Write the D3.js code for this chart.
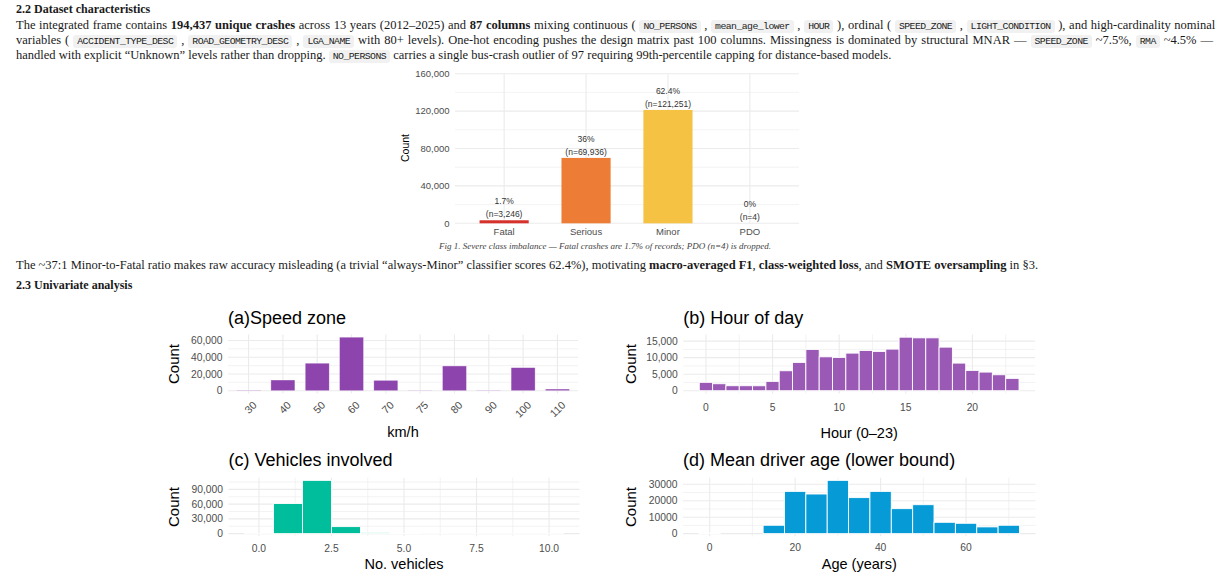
<!DOCTYPE html>
<html>
<head>
<meta charset="utf-8">
<script src="https://cdn.jsdelivr.net/npm/d3@7"></script>
<style>
  body { margin: 0; background: #fff; width: 1232px; height: 580px; overflow: hidden; position: relative;
         font-family: "Liberation Serif", "Times New Roman", serif; color: #1a1a1a; }
  .ln { position: absolute; left: 16px; white-space: nowrap; font-size: 12.5px; line-height: 16px; }
  .hd { font-weight: bold; font-size: 12px; }
  .cap { position: absolute; left: 0; width: 1210px; text-align: center; font-style: italic; font-size: 9px;
         line-height: 12px; color: #444; white-space: nowrap; }
  code { font-family: "Liberation Mono", monospace; font-size: 9.8px; letter-spacing: -0.55px; background: #f1f1f1;
         border-radius: 3px; padding: 1px 4px 1px 4px; color: #222; word-spacing: 0; }
  svg { position: absolute; left: 0; top: 0; }
</style>
</head>
<body>
<div class="ln hd" style="top:1px">2.2 Dataset characteristics</div>
<div class="ln" style="top:17px" data-w="1199">The integrated frame contains <b>194,437 unique crashes</b> across 13 years (2012–2025) and <b>87 columns</b> mixing continuous ( <code>NO_PERSONS</code> , <code>mean_age_lower</code> , <code>HOUR</code> ), ordinal ( <code>SPEED_ZONE</code> , <code>LIGHT_CONDITION</code> ), and high-cardinality nominal</div>
<div class="ln" style="top:32px" data-w="1197">variables ( <code>ACCIDENT_TYPE_DESC</code> , <code>ROAD_GEOMETRY_DESC</code> , <code>LGA_NAME</code> with 80+ levels). One-hot encoding pushes the design matrix past 100 columns. Missingness is dominated by structural MNAR — <code>SPEED_ZONE</code> ~7.5%, <code>RMA</code> ~4.5% —</div>
<div class="ln" style="top:46.5px">handled with explicit “Unknown” levels rather than dropping. <code>NO_PERSONS</code> carries a single bus-crash outlier of 97 requiring 99th-percentile capping for distance-based models.</div>
<div class="cap" style="top:240px">Fig 1. Severe class imbalance — Fatal crashes are 1.7% of records; PDO (n=4) is dropped.</div>
<div class="ln" style="top:257px">The ~37:1 Minor-to-Fatal ratio makes raw accuracy misleading (a trivial “always-Minor” classifier scores 62.4%), motivating <b>macro-averaged F1</b>, <b>class-weighted loss</b>, and <b>SMOTE oversampling</b> in §3.</div>
<div class="ln hd" style="top:277px">2.3 Univariate analysis</div>
<svg id="chart"></svg>
<script>
// ---- data ----
var severityLabels = ["Fatal", "Serious", "Minor", "PDO"];
var severityCounts = [3246, 69936, 121251, 4];
var severityTicks = [0, 40000, 80000, 120000, 160000];

var speedZones = ["30", "40", "50", "60", "70", "75", "80", "90", "100", "110"];
var speedCounts = [700, 12800, 32900, 64000, 12400, 500, 29600, 600, 27600, 2000];
var speedTicks = [0, 20000, 40000, 60000];

var hours = [0, 1, 2, 3, 4, 5, 6, 7, 8, 9, 10, 11, 12, 13, 14, 15, 16, 17, 18, 19, 20, 21, 22, 23];
var hourCounts = [2540, 2110, 1510, 1510, 1500, 2830, 6040, 8570, 12500, 10260, 10080, 11380,
                  12190, 11890, 12590, 16200, 16000, 16000, 13190, 8360, 6150, 5640, 4830, 3740];
var hourXTicks = [0, 5, 10, 15, 20];
var hourYTicks = [0, 5000, 10000, 15000];

var vehicles = [0, 1, 2, 3, 4, 5, 6, 7, 8, 9, 10];
var vehicleCounts = [60, 61400, 108400, 14300, 2000, 400, 120, 40, 15, 8, 5];
var vehicleXTicks = [0, 2.5, 5, 7.5, 10];
var vehicleYTicks = [0, 30000, 60000, 90000];

var ageBins = [0, 5, 10, 15, 20, 25, 30, 35, 40, 45, 50, 55, 60, 65, 70];
var ageCounts = [250, 0, 0, 5100, 25700, 24100, 32400, 21900, 25700, 15200, 17600, 6900, 6300, 4100, 5100];
var ageXTicks = [0, 20, 40, 60];
var ageYTicks = [0, 10000, 20000, 30000];

// ---- styles ----
var severityPalette = ["#d7312b", "#ed7d36", "#f5c244", "#999999"];
var SANS = "'Liberation Sans', Arial, sans-serif";
var GRID = "#ebebeb", TICK = "#4d4d4d";

var svg = d3.select("#chart").attr("width", 1232).attr("height", 580).style("font-family", SANS);

// the two full lines of the paragraph are justified in the source
function fitLines() {
    document.querySelectorAll(".ln[data-w]").forEach(function (el) {
        el.style.wordSpacing = "0px";
        var target = +el.getAttribute("data-w"),
            spaces = (el.textContent.match(/ /g) || []).length,
            w = el.scrollWidth;
        el.style.wordSpacing = ((target - w) / spaces).toFixed(2) + "px";
    });
}
fitLines();
if (document.fonts && document.fonts.ready) document.fonts.ready.then(fitLines);

function minorOf(major, lo, hi) {
    var step = major[1] - major[0], out = [];
    for (var i = -1; i < major.length; i++) {
        var m = major[0] + (i + 0.5) * step;
        if (m > lo && m < hi) out.push(m);
    }
    return out;
}

function drawGrid(g, x, y, xMajor, xMinor, yMajor, yMinor) {
    var xr = x.range(), yr = y.range();
    g.selectAll(".gy0").data(yMinor).join("line").attr("class", "gy0")
        .attr("x1", xr[0]).attr("x2", xr[1]).attr("y1", y).attr("y2", y)
        .attr("stroke", GRID).attr("stroke-width", 0.6);
    g.selectAll(".gx0").data(xMinor).join("line").attr("class", "gx0")
        .attr("x1", x).attr("x2", x).attr("y1", yr[0]).attr("y2", yr[1])
        .attr("stroke", GRID).attr("stroke-width", 0.6);
    g.selectAll(".gy1").data(yMajor).join("line").attr("class", "gy1")
        .attr("x1", xr[0]).attr("x2", xr[1]).attr("y1", y).attr("y2", y)
        .attr("stroke", GRID).attr("stroke-width", 1.1);
    g.selectAll(".gx1").data(xMajor).join("line").attr("class", "gx1")
        .attr("x1", x).attr("x2", x).attr("y1", yr[0]).attr("y2", yr[1])
        .attr("stroke", GRID).attr("stroke-width", 1.1);
}

function yLabels(g, x, y, ticks, fmt, size) {
    g.selectAll(".yl").data(ticks).join("text").attr("class", "yl")
        .attr("x", x.range()[0] - 5.5).attr("y", y).attr("dy", "0.35em")
        .attr("text-anchor", "end").attr("font-size", size).attr("fill", TICK)
        .text(fmt);
}

function titles(g, x, title, xTitle, titleY, xTitleY) {
    var xr = x.range();
    g.append("text").attr("x", xr[0]).attr("y", titleY).attr("font-size", 18).attr("fill", "#000").text(title);
    g.append("text").attr("x", (xr[0] + xr[1]) / 2).attr("y", xTitleY).attr("text-anchor", "middle")
        .attr("font-size", 14.5).attr("fill", "#000").text(xTitle);
}

function countTitle(g, cx, cy, size) {
    g.append("text").attr("transform", "translate(" + cx + "," + cy + ") rotate(-90)")
        .attr("dy", "0.35em").attr("text-anchor", "middle").attr("font-size", size).attr("fill", "#000").text("Count");
}

function yScaleFor(counts, top, bottom) {
    var mx = d3.max(counts);
    return d3.scaleLinear().domain([-0.05 * mx, 1.05 * mx]).range([bottom, top]);
}

function xScaleFor(lo, hi, left, right) {
    var pad = (hi - lo) * 0.05;
    return d3.scaleLinear().domain([lo - pad, hi + pad]).range([left, right]);
}

// ---- Fig 1: class balance ----
(function () {
    var g = svg.append("g"),
        x = d3.scalePoint().domain(severityLabels).range([455, 799]).padding(0.6),
        y = d3.scaleLinear().domain([0, 160000]).range([223.3, 73.7]),
        total = d3.sum(severityCounts),
        bw = x.step() * 0.6,
        rows = severityLabels.map(function (s, i) { return { cat: s, n: severityCounts[i], col: severityPalette[i] }; });

    drawGrid(g, x, y, severityLabels, [], severityTicks, [20000, 60000, 100000, 140000]);
    yLabels(g, x, y, severityTicks, d3.format(","), 9.5);

    g.selectAll(".bar").data(rows).join("rect").attr("class", "bar")
        .attr("x", function (d) { return x(d.cat) - bw / 2; })
        .attr("width", bw)
        .attr("y", function (d) { return y(d.n); })
        .attr("height", function (d) { return y(0) - y(d.n); })
        .attr("fill", function (d) { return d.col; });

    g.selectAll(".pct").data(rows).join("text").attr("class", "pct")
        .attr("x", function (d) { return x(d.cat); })
        .attr("y", function (d) { return y(d.n) - 16; })
        .attr("text-anchor", "middle").attr("font-size", 8.5).attr("fill", "#333")
        .text(function (d) { return (Math.round(d.n / total * 1000) / 10) + "%"; });
    g.selectAll(".nn").data(rows).join("text").attr("class", "nn")
        .attr("x", function (d) { return x(d.cat); })
        .attr("y", function (d) { return y(d.n) - 3.3; })
        .attr("text-anchor", "middle").attr("font-size", 8.5).attr("fill", "#333")
        .text(function (d) { return "(n=" + d3.format(",")(d.n) + ")"; });

    g.selectAll(".xl").data(severityLabels).join("text").attr("class", "xl")
        .attr("x", x).attr("y", 235).attr("text-anchor", "middle")
        .attr("font-size", 9.5).attr("fill", TICK).text(function (d) { return d; });
    countTitle(g, 405, 148, 10.5);
})();

// ---- (a) Speed zone ----
(function () {
    var g = svg.append("g"),
        x = d3.scalePoint().domain(speedZones).range([228, 578]).padding(0.6),
        y = yScaleFor(speedCounts, 334.5, 393.4),
        bw = x.step() * 0.7;

    drawGrid(g, x, y, speedZones, [], speedTicks, minorOf(speedTicks, y.domain()[0], y.domain()[1]));
    g.selectAll(".bar").data(speedZones).join("rect").attr("class", "bar")
        .attr("x", function (d) { return x(d) - bw / 2; }).attr("width", bw)
        .attr("y", function (d, i) { return y(speedCounts[i]); })
        .attr("height", function (d, i) { return y(0) - y(speedCounts[i]); })
        .attr("fill", "#8e44ad").attr("stroke", "#ffffff").attr("stroke-opacity", 0.6).attr("stroke-width", 0.6);
    yLabels(g, x, y, speedTicks, d3.format(","), 10.3);
    g.selectAll(".xl").data(speedZones).join("text").attr("class", "xl")
        .attr("transform", function (d) { return "translate(" + (x(d) + 3.5) + ",400.5) rotate(-45)"; })
        .attr("dy", "0.71em").attr("text-anchor", "end")
        .attr("font-size", 10.6).attr("fill", TICK).text(function (d) { return d; });
    titles(g, x, "(a)Speed zone", "km/h", 323.6, 437);
    countTitle(g, 173.3, 364, 15);
})();

// ---- (b) Hour of day ----
(function () {
    var g = svg.append("g"),
        x = xScaleFor(-0.5, 23.5, 683.3, 1035),
        y = yScaleFor(hourCounts, 334.5, 393.4);

    drawGrid(g, x, y, hourXTicks, minorOf(hourXTicks, x.domain()[0], x.domain()[1]),
        hourYTicks, minorOf(hourYTicks, y.domain()[0], y.domain()[1]));
    g.selectAll(".bar").data(hours).join("rect").attr("class", "bar")
        .attr("x", function (d) { return x(d - 0.5); })
        .attr("width", function (d) { return x(d + 0.5) - x(d - 0.5); })
        .attr("y", function (d, i) { return y(hourCounts[i]); })
        .attr("height", function (d, i) { return y(0) - y(hourCounts[i]); })
        .attr("fill", "#9b59b6").attr("stroke", "#ffffff").attr("stroke-width", 0.9);
    yLabels(g, x, y, hourYTicks, d3.format(","), 10.3);
    g.selectAll(".xl").data(hourXTicks).join("text").attr("class", "xl")
        .attr("x", x).attr("y", 410.5).attr("text-anchor", "middle")
        .attr("font-size", 10.3).attr("fill", TICK).text(function (d) { return d; });
    titles(g, x, "(b) Hour of day", "Hour (0–23)", 323.6, 438);
    countTitle(g, 630.5, 364, 15);
})();

// ---- (c) Vehicles involved ----
(function () {
    var g = svg.append("g"),
        x = xScaleFor(-0.5, 10.5, 228.5, 579.5),
        y = yScaleFor(vehicleCounts, 477.7, 536.3);

    drawGrid(g, x, y, vehicleXTicks, minorOf(vehicleXTicks, x.domain()[0], x.domain()[1]),
        vehicleYTicks, minorOf(vehicleYTicks, y.domain()[0], y.domain()[1]));
    g.selectAll(".bar").data(vehicles).join("rect").attr("class", "bar")
        .attr("x", function (d) { return x(d - 0.5); })
        .attr("width", function (d) { return x(d + 0.5) - x(d - 0.5); })
        .attr("y", function (d, i) { return y(vehicleCounts[i]); })
        .attr("height", function (d, i) { return y(0) - y(vehicleCounts[i]); })
        .attr("fill", "#00be9c").attr("stroke", "#ffffff").attr("stroke-width", 0.9);
    yLabels(g, x, y, vehicleYTicks, d3.format(","), 10.3);
    g.selectAll(".xl").data(vehicleXTicks).join("text").attr("class", "xl")
        .attr("x", x).attr("y", 552).attr("text-anchor", "middle")
        .attr("font-size", 10.3).attr("fill", TICK).text(d3.format(".1f"));
    titles(g, x, "(c) Vehicles involved", "No. vehicles", 466.3, 568.5);
    countTitle(g, 173.3, 507, 15);
})();

// ---- (d) Mean driver age ----
(function () {
    var g = svg.append("g"),
        x = xScaleFor(-2.5, 72.5, 683, 1035.5),
        y = yScaleFor(ageCounts, 477.7, 536.3);

    drawGrid(g, x, y, ageXTicks, minorOf(ageXTicks, x.domain()[0], x.domain()[1]),
        ageYTicks, minorOf(ageYTicks, y.domain()[0], y.domain()[1]));
    g.selectAll(".bar").data(ageBins).join("rect").attr("class", "bar")
        .attr("x", function (d) { return x(d - 2.5); })
        .attr("width", function (d) { return x(d + 2.5) - x(d - 2.5); })
        .attr("y", function (d, i) { return y(ageCounts[i]); })
        .attr("height", function (d, i) { return y(0) - y(ageCounts[i]); })
        .attr("fill", "#069bd6").attr("stroke", "#ffffff").attr("stroke-width", 0.9);
    yLabels(g, x, y, ageYTicks, function (d) { return String(d); }, 10.3);
    g.selectAll(".xl").data(ageXTicks).join("text").attr("class", "xl")
        .attr("x", x).attr("y", 551).attr("text-anchor", "middle")
        .attr("font-size", 10.3).attr("fill", TICK).text(function (d) { return d; });
    titles(g, x, "(d) Mean driver age (lower bound)", "Age (years)", 466.3, 569);
    countTitle(g, 630.5, 507, 15);
})();
</script>
</body>
</html>
